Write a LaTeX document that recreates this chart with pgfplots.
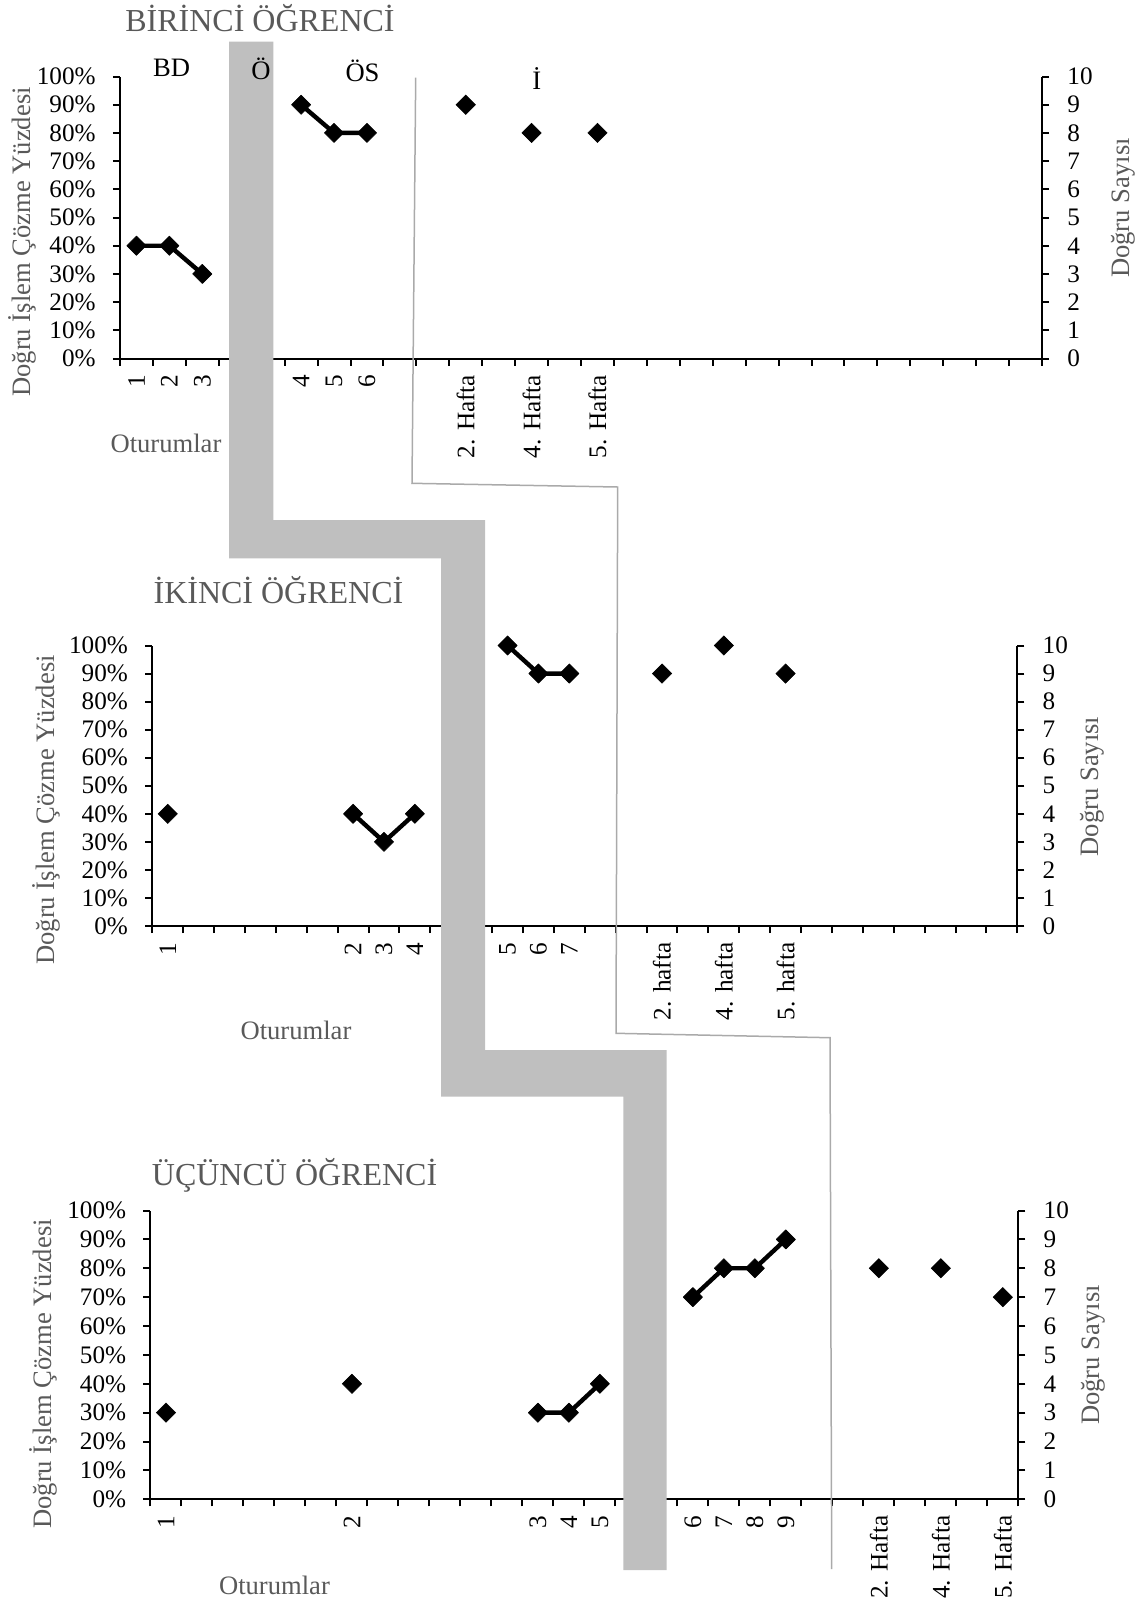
\documentclass[border=0pt]{standalone}
\usepackage{fontspec}
\setmainfont{Liberation Serif}
\usepackage{pgfplots}
\pgfplotsset{compat=1.18}
\definecolor{band}{RGB}{191,191,191}
\definecolor{lbl}{RGB}{89,89,89}
\definecolor{phase}{RGB}{170,170,170}
\newcommand{\tickfont}{\fontsize{12.6}{14}\selectfont}
\newcommand{\labfont}{\fontsize{13.3}{15}\selectfont}
\newcommand{\titfont}{\fontsize{16}{18}\selectfont}
\pgfplotsset{
  panel/.style={
    scale only axis, clip=false,
    xmin=0, xmax=28, ymin=0, ymax=100,
    axis x line*=bottom, axis y line*=left,
    axis line style={line width=1pt,-},
    tick style={line width=1pt, black},
    tick align=outside,
    major tick length=3.5pt,
    xtick={0,1,...,28}, xticklabels={},
    ytick={0,10,...,100},
    yticklabels={0\%,10\%,20\%,30\%,40\%,50\%,60\%,70\%,80\%,90\%,100\%},
    tick label style={font=\tickfont, text=black},
    yticklabel style={inner sep=0pt},
    yticklabel shift=8.5pt,
    xticklabel style={rotate=90, anchor=east, inner sep=0pt},
    xticklabel shift=8pt,
    extra x tick style={major tick length=0pt},
  },
  rpanel/.style={
    scale only axis, clip=false,
    xmin=0, xmax=28, ymin=0, ymax=10,
    axis x line=none, axis y line*=right,
    axis line style={line width=1pt,-},
    tick style={line width=1pt, black},
    tick align=outside,
    major tick length=3.5pt,
    ytick={0,1,...,10},
    yticklabels={0,1,2,3,4,5,6,7,8,9,10},
    tick label style={font=\tickfont, text=black},
    yticklabel style={inner sep=0pt},
    yticklabel shift=9pt,
  },
  seg/.style={black, line width=2.2pt, line join=round, mark=square*, mark size=3.4pt,
    mark options={solid, rotate=45, line width=0.3pt, fill=black}},
  pts/.style={black, only marks, mark=square*, mark size=3.4pt,
    mark options={solid, rotate=45, line width=0.3pt, fill=black}},
}
\begin{document}
\begin{tikzpicture}
\useasboundingbox (0,0) rectangle (569pt,-804pt);
% ---------- Panel 1 ----------
\begin{axis}[panel, at={(60pt,-179.25pt)}, anchor=south west, width=461pt, height=141pt,
  extra x ticks={0.5,1.5,2.5,5.5,6.5,7.5,10.5,12.5,14.5},
  extra x tick labels={1,2,3,4,5,6,2. Hafta,4. Hafta,5. Hafta}]
\addplot[seg] coordinates {(0.5,40) (1.5,40) (2.5,30)};
\addplot[seg] coordinates {(5.5,90) (6.5,80) (7.5,80)};
\addplot[pts] coordinates {(10.5,90) (12.5,80) (14.5,80)};
\end{axis}
\begin{axis}[rpanel, at={(60pt,-179.25pt)}, anchor=south west, width=461pt, height=141pt]
\addplot[draw=none] coordinates {(0,0)};
\end{axis}
% ---------- Panel 2 ----------
\begin{axis}[panel, at={(76.15pt,-463pt)}, anchor=south west, width=432.5pt, height=140.25pt,
  extra x ticks={0.5,6.5,7.5,8.5,11.5,12.5,13.5,16.5,18.5,20.5},
  extra x tick labels={1,2,3,4,5,6,7,2. hafta,4. hafta,5. hafta}]
\addplot[pts] coordinates {(0.5,40)};
\addplot[seg] coordinates {(6.5,40) (7.5,30) (8.5,40)};
\addplot[seg] coordinates {(11.5,100) (12.5,90) (13.5,90)};
\addplot[pts] coordinates {(16.5,90) (18.5,100) (20.5,90)};
\end{axis}
\begin{axis}[rpanel, at={(76.15pt,-463pt)}, anchor=south west, width=432.5pt, height=140.25pt]
\addplot[draw=none] coordinates {(0,0)};
\end{axis}
% ---------- Panel 3 ----------
\begin{axis}[panel, at={(75.25pt,-749.65pt)}, anchor=south west, width=433.9pt, height=144.4pt,
  extra x ticks={0.5,6.5,12.5,13.5,14.5,17.5,18.5,19.5,20.5,23.5,25.5,27.5},
  extra x tick labels={1,2,3,4,5,6,7,8,9,2. Hafta,4. Hafta,5. Hafta}]
\addplot[pts] coordinates {(0.5,30) (6.5,40)};
\addplot[seg] coordinates {(12.5,30) (13.5,30) (14.5,40)};
\addplot[seg] coordinates {(17.5,70) (18.5,80) (19.5,80) (20.5,90)};
\addplot[pts] coordinates {(23.5,80) (25.5,80) (27.5,70)};
\end{axis}
\begin{axis}[rpanel, at={(75.25pt,-749.65pt)}, anchor=south west, width=433.9pt, height=144.4pt]
\addplot[draw=none] coordinates {(0,0)};
\end{axis}
% ---------- decorations ----------
\begin{scope}[x=0.5pt,y=-0.5pt]
\fill[band] (229,41.7) -- (273.3,41.7) -- (273.3,520) -- (485,520) -- (485,1050)
  -- (666.7,1050) -- (666.7,1570) -- (623.3,1570) -- (623.3,1096.7) -- (441,1096.7)
  -- (441,558.3) -- (229,558.3) -- cycle;
\draw[phase, line width=0.75pt] (415.7,77.7) -- (412,483.3) -- (617.7,487) -- (616,1033.3)
  -- (830,1037.7) -- (831.7,1569);
% titles
\node[font=\titfont, text=lbl, anchor=base, inner sep=0pt] at (260,31.7) {BİRİNCİ ÖĞRENCİ};
\node[font=\titfont, text=lbl, anchor=base, inner sep=0pt] at (278.5,603.3) {İKİNCİ ÖĞRENCİ};
\node[font=\titfont, text=lbl, anchor=base, inner sep=0pt] at (294.6,1185) {ÜÇÜNCÜ ÖĞRENCİ};
% y labels
\node[font=\labfont, text=lbl, rotate=90, inner sep=0pt] at (22,242) {Doğru İşlem Çözme Yüzdesi};
\node[font=\labfont, text=lbl, rotate=90, inner sep=0pt] at (46.5,810) {Doğru İşlem Çözme Yüzdesi};
\node[font=\labfont, text=lbl, rotate=90, inner sep=0pt] at (43,1374) {Doğru İşlem Çözme Yüzdesi};
\node[font=\labfont, text=lbl, rotate=90, inner sep=0pt] at (1123,208) {Doğru Sayısı};
\node[font=\labfont, text=lbl, rotate=90, inner sep=0pt] at (1092,786.5) {Doğru Sayısı};
\node[font=\labfont, text=lbl, rotate=90, inner sep=0pt] at (1093,1355) {Doğru Sayısı};
% x labels
\node[font=\labfont, text=lbl, inner sep=0pt] at (166,443) {Oturumlar};
\node[font=\labfont, text=lbl, inner sep=0pt] at (296,1030) {Oturumlar};
\node[font=\labfont, text=lbl, inner sep=0pt] at (274.5,1585) {Oturumlar};
% phase labels
\node[font=\labfont, anchor=base, inner sep=0pt] at (171.7,76.7) {BD};
\node[font=\labfont, anchor=base, inner sep=0pt] at (261,79.3) {Ö};
\node[font=\labfont, anchor=base, inner sep=0pt] at (362.5,81.7) {ÖS};
\node[font=\labfont, anchor=base, inner sep=0pt] at (536.7,89.3) {İ};
\end{scope}
\end{tikzpicture}
\end{document}
